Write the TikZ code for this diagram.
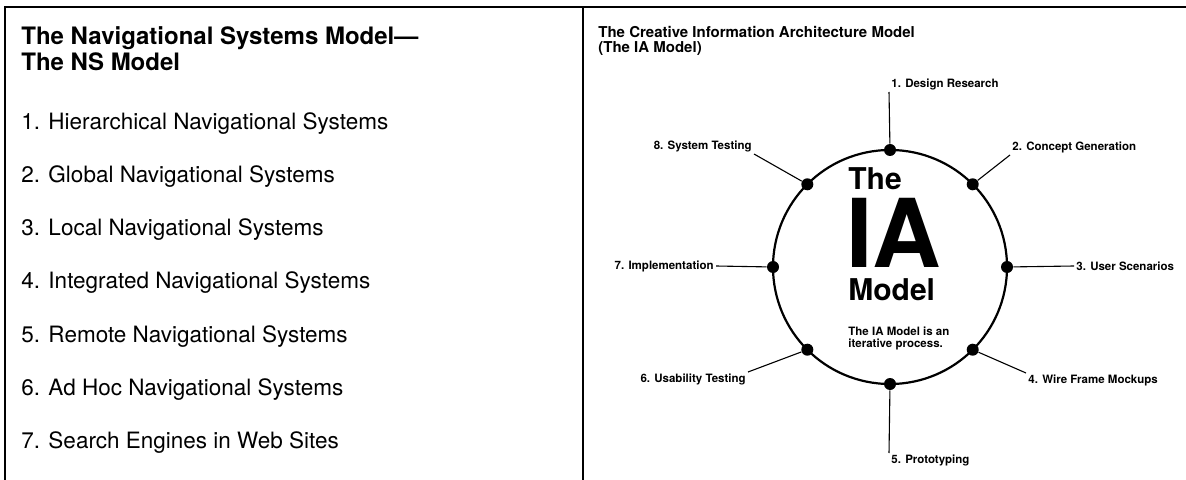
\documentclass[tikz,border=0pt]{standalone}
\usepackage{fontspec}
\setmainfont{TeX Gyre Heros}
\usetikzlibrary{shapes,calc}

\begin{document}
\begin{tikzpicture}[x=0.5pt,y=-0.5pt]
  \tikzset{ dot/.style={circle,fill=black,inner sep=0pt,minimum size=6pt},
    lbl/.style={font=\fontsize{5.75}{6.5}\selectfont\bfseries,inner sep=1pt},
    item/.style={font=\fontsize{11.25}{13}\selectfont,inner sep=0pt,anchor=base west},
    head/.style={font=\fontsize{12}{14}\selectfont\bfseries,inner sep=0pt,anchor=base west},
    ttl/.style={font=\fontsize{7.5}{8}\selectfont\bfseries,inner sep=0pt,anchor=base west},
    big/.style={font=\fontsize{15}{16}\selectfont\bfseries,inner sep=0pt,anchor=base west,text depth=0pt},
    link/.style={line width=0.55pt},
  }
  \useasboundingbox (0,0) rectangle (1186,480);

  % the frame round the two panels
  \draw[line width=1.25pt] (5,480) -- (5,7) -- (1186,7);
  \draw[line width=1.1pt] (583,7) -- (583,480);

  % left panel
  \node[head] (h1) at (21,45) {The Navigational Systems Model—};
  \node[head] (h2) at (21,71) {The NS Model};
  \node[item] (s1) at (21,130) {1. Hierarchical Navigational Systems};
  \node[item] (s2) at (21,183) {2. Global Navigational Systems};
  \node[item] (s3) at (21,236) {3. Local Navigational Systems};
  \node[item] (s4) at (21,289) {4. Integrated Navigational Systems};
  \node[item] (s5) at (21,342) {5. Remote Navigational Systems};
  \node[item] (s6) at (21,395) {6. Ad Hoc Navigational Systems};
  \node[item] (s7) at (21,448) {7. Search Engines in Web Sites};

  % right panel
  \node[ttl] (t1) at (598,38) {The Creative Information Architecture Model};
  \node[ttl] (t2) at (598,53) {(The IA Model)};

  \coordinate (c) at (890,267);
  \draw[line width=1.1pt] (c) circle[radius=117];

  \node[big] (the) at (848,190) {The};
  \node[big,font=\fontsize{47.5}{48}\selectfont\bfseries,text height=47.5pt*0.72] (ia) at (846,268) {IA};
  \node[big] (model) at (848,300) {Model};
  \node[lbl,inner sep=0pt,anchor=base west] (n1) at (848,335) {The IA Model is an};
  \node[lbl,inner sep=0pt,anchor=base west] (n2) at (848,347) {iterative process.};

  \node[dot] (d1) at (890,150) {};
  \node[dot] (d2) at (972.7,184.3) {};
  \node[dot] (d3) at (1007,267) {};
  \node[dot] (d4) at (972.7,349.7) {};
  \node[dot] (d5) at (890,384) {};
  \node[dot] (d6) at (807.3,349.7) {};
  \node[dot] (d7) at (773,267) {};
  \node[dot] (d8) at (807.3,184.3) {};

  \node[lbl,anchor=south west] (l1) at (889,92) {1. Design Research};
  \node[lbl,anchor=south west] (l2) at (1010,155) {2. Concept Generation};
  \node[lbl,anchor=west] (l3) at (1074,266) {3. User Scenarios};
  \node[lbl,anchor=north west] (l4) at (1026,373) {4. Wire Frame Mockups};
  \node[lbl,anchor=north west] (l5) at (889,453) {5. Prototyping};
  \node[lbl,anchor=north east] (l6) at (748,372) {6. Usability Testing};
  \node[lbl,anchor=east] (l7) at (716,266) {7. Implementation};
  \node[lbl,anchor=south east] (l8) at (754,154) {8. System Testing};

  % the connection between the dots and the steps
  \draw[link] (d1) -- (l1.south west);
  \draw[link] (d2) -- (l2.south west);
  \draw[link] (d3) -- (l3.west);
  \draw[link] (d4) -- (l4.north west);
  \draw[link] (d5) -- (l5.north west);
  \draw[link] (d6) -- (l6.north east);
  \draw[link] (d7) -- (l7.east);
  \draw[link] (d8) -- (l8.south east);
\end{tikzpicture}
\end{document}
